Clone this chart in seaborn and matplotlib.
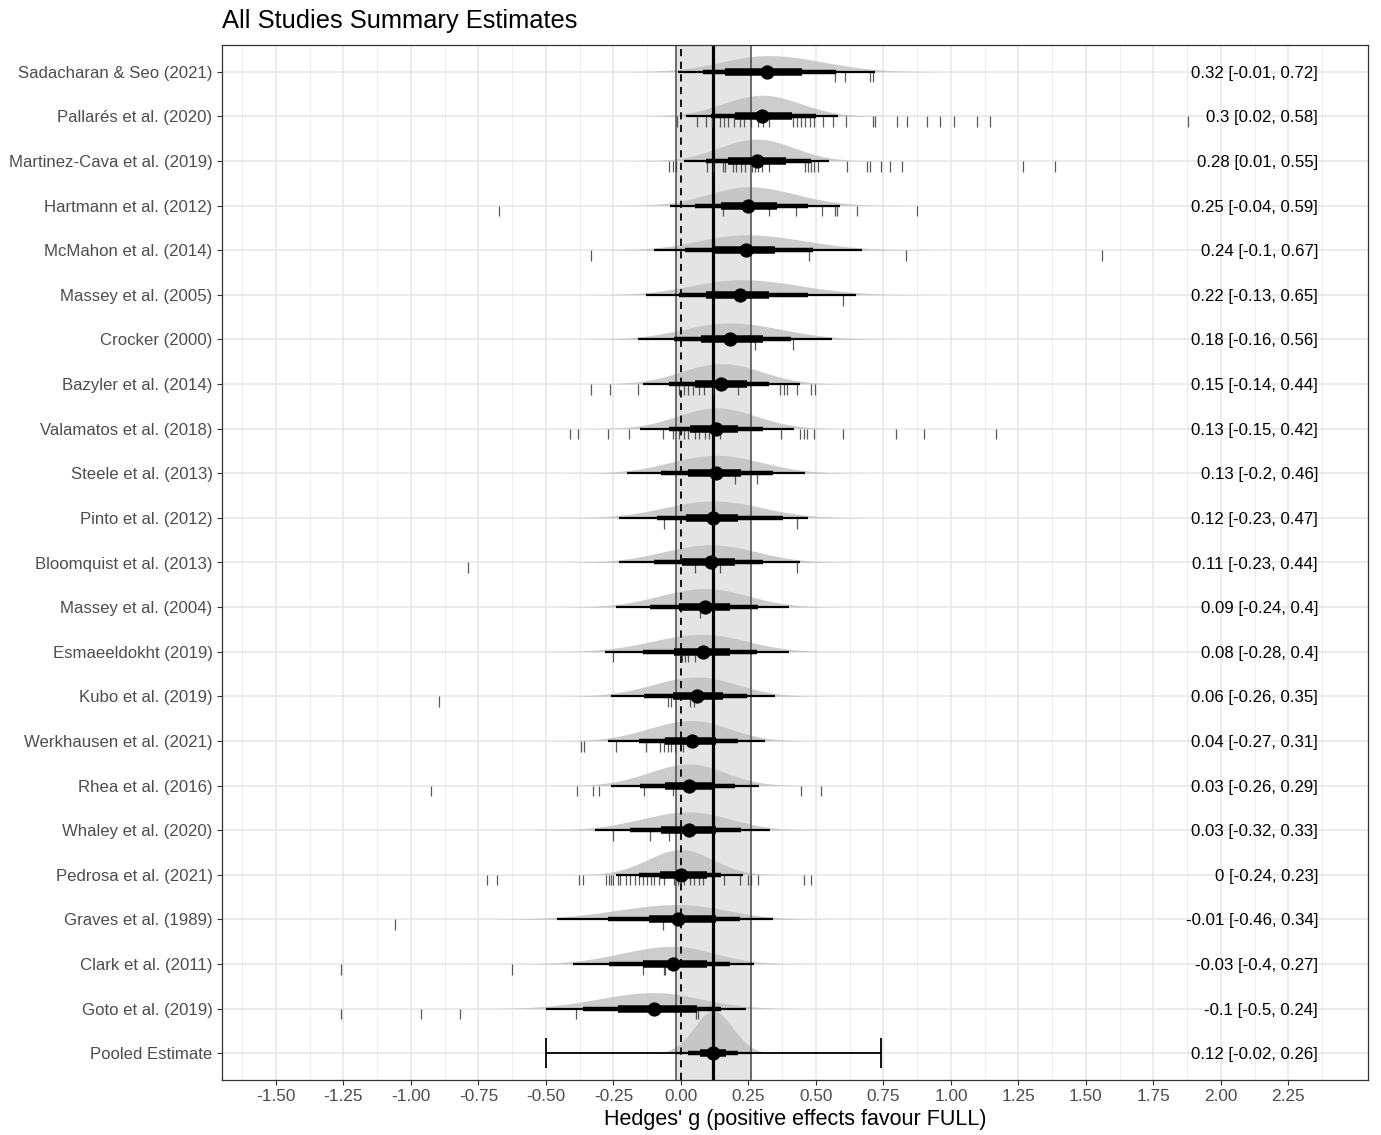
import numpy as np
import pandas as pd
import matplotlib
matplotlib.use("Agg")
import matplotlib.pyplot as plt
import seaborn as sns

# ------------------------------------------
# Data
# ------------------------------------------
studies = [
    "Sadacharan & Seo (2021)", "Pallarés et al. (2020)", "Martinez-Cava et al. (2019)",
    "Hartmann et al. (2012)", "McMahon et al. (2014)", "Massey et al. (2005)",
    "Crocker (2000)", "Bazyler et al. (2014)", "Valamatos et al. (2018)",
    "Steele et al. (2013)", "Pinto et al. (2012)", "Bloomquist et al. (2013)",
    "Massey et al. (2004)", "Esmaeeldokht (2019)", "Kubo et al. (2019)",
    "Werkhausen et al. (2021)", "Rhea et al. (2016)", "Whaley et al. (2020)",
    "Pedrosa et al. (2021)", "Graves et al. (1989)", "Clark et al. (2011)",
    "Goto et al. (2019)", "Pooled Estimate",
]
median = [0.32, 0.30, 0.28, 0.25, 0.24, 0.22, 0.18, 0.15, 0.13, 0.13, 0.12, 0.11,
          0.09, 0.08, 0.06, 0.04, 0.03, 0.03, 0.00, -0.01, -0.03, -0.10, 0.12]
lower95 = [-0.01, 0.02, 0.01, -0.04, -0.10, -0.13, -0.16, -0.14, -0.15, -0.20, -0.23, -0.23,
           -0.24, -0.28, -0.26, -0.27, -0.26, -0.32, -0.24, -0.46, -0.40, -0.50, -0.02]
upper95 = [0.72, 0.58, 0.55, 0.59, 0.67, 0.65, 0.56, 0.44, 0.42, 0.46, 0.47, 0.44,
           0.40, 0.40, 0.35, 0.31, 0.29, 0.33, 0.23, 0.34, 0.27, 0.24, 0.26]
lower80 = [0.083, 0.11, 0.093, 0.052, 0.015, -0.006, -0.027, -0.044, -0.044, -0.073, -0.089, -0.10,
           -0.114, -0.141, -0.135, -0.156, -0.151, -0.187, -0.156, -0.272, -0.266, -0.363, 0.028]
upper80 = [0.575, 0.50, 0.48, 0.47, 0.49, 0.47, 0.409, 0.326, 0.305, 0.342, 0.378, 0.305,
           0.284, 0.28, 0.243, 0.21, 0.201, 0.222, 0.149, 0.218, 0.181, 0.149, 0.212]
lower50 = [0.164, 0.20, 0.176, 0.15, 0.128, 0.093, 0.073, 0.052, 0.035, 0.025, 0.019, 0.004,
           -0.006, -0.027, -0.031, -0.058, -0.058, -0.075, -0.079, -0.12, -0.142, -0.233, 0.072]
upper50 = [0.45, 0.41, 0.39, 0.357, 0.35, 0.326, 0.305, 0.243, 0.21, 0.222, 0.212, 0.20,
           0.18, 0.18, 0.156, 0.131, 0.118, 0.129, 0.098, 0.129, 0.097, 0.058, 0.168]

# prediction interval of the pooled estimate
pred_lower = -0.50
pred_upper = 0.74

# individual effect sizes (rug ticks) per study
rug_sadacharan = [0.571, 0.606, 0.699, 0.710]
rug_pallares = [-0.015, 0.06, 0.093, 0.114, 0.143, 0.16, 0.176, 0.197, 0.218, 0.234, 0.259,
                0.284, 0.305, 0.326, 0.415, 0.429, 0.446, 0.459, 0.477, 0.492, 0.527, 0.564,
                0.612, 0.71, 0.72, 0.799, 0.836, 0.913, 0.958, 1.012, 1.097, 1.145, 1.88]
rug_martinez = [-0.044, -0.031, -0.017, 0.098, 0.118, 0.154, 0.164, 0.191, 0.203, 0.222, 0.239,
                0.263, 0.274, 0.284, 0.299, 0.326, 0.461, 0.471, 0.481, 0.492, 0.506, 0.616,
                0.689, 0.699, 0.741, 0.776, 0.819, 1.266, 1.384]
rug_hartmann = [-0.674, 0.154, 0.326, 0.425, 0.523, 0.571, 0.579, 0.651, 0.876]
rug_mcmahon = [-0.332, 0.475, 0.834, 1.56]
rug_massey05 = [0.60]
rug_crocker = [0.274, 0.415]
rug_bazyler = [-0.332, -0.261, -0.158, -0.006, 0.01, 0.027, 0.046, 0.068, 0.085, 0.118, 0.21,
               0.367, 0.38, 0.392, 0.429, 0.481, 0.496]
rug_valamatos = [-0.411, -0.38, -0.272, -0.193, -0.068, -0.031, -0.006, 0.01, 0.027, 0.052,
                 0.068, 0.089, 0.104, 0.143, 0.371, 0.44, 0.454, 0.467, 0.492, 0.6, 0.797,
                 0.902, 1.166]
rug_steele = [0.201, 0.28]
rug_pinto = [-0.062, 0.429]
rug_bloomquist = [-0.79, 0.052, 0.143, 0.429]
rug_massey04 = [0.07]
rug_esmaeeldokht = [-0.251, 0.004, 0.015, 0.027, 0.052]
rug_kubo = [-0.898, -0.048, -0.035, 0.035, 0.048]
rug_werkhausen = [-0.369, -0.359, -0.239, -0.131, -0.079, -0.064, -0.048, -0.037, -0.023, 0.006]
rug_rhea = [-0.925, -0.386, -0.324, -0.305, -0.135, -0.031, 0.446, 0.517]
rug_whaley = [-0.251, -0.116, -0.044]
rug_pedrosa = [-0.718, -0.680, -0.376, -0.363, -0.276, -0.268, -0.259, -0.251, -0.234, -0.224,
               -0.203, -0.189, -0.172, -0.156, -0.141, -0.124, -0.110, -0.098, -0.083, -0.064,
               -0.027, -0.012, 0.010, 0.035, 0.050, 0.068, 0.083, 0.160, 0.218, 0.247, 0.259,
               0.284, 0.454, 0.481]
rug_graves = [-1.058, -0.068]
rug_clark = [-1.26, -0.624, -0.142, -0.062, -0.058]
rug_goto = [-1.26, -0.962, -0.82, -0.389, 0.056, 0.062]

rug_values = [rug_sadacharan, rug_pallares, rug_martinez, rug_hartmann, rug_mcmahon,
              rug_massey05, rug_crocker, rug_bazyler, rug_valamatos, rug_steele, rug_pinto,
              rug_bloomquist, rug_massey04, rug_esmaeeldokht, rug_kubo, rug_werkhausen,
              rug_rhea, rug_whaley, rug_pedrosa, rug_graves, rug_clark, rug_goto, []]

x_ticks = np.arange(-1.5, 2.26, 0.25)

# ------------------------------------------
# Build table
# ------------------------------------------
n = len(studies)
df = pd.DataFrame({
    "study": studies, "median": median,
    "lo95": lower95, "hi95": upper95,
    "lo80": lower80, "hi80": upper80,
    "lo50": lower50, "hi50": upper50,
})
df["ypos"] = np.arange(n)[::-1]


def fmt(v):
    s = f"{v:g}"
    return "0" if s == "-0" else s


df["label"] = [f"{fmt(m)} [{fmt(l)}, {fmt(h)}]" for m, l, h in
               zip(df["median"], df["lo95"], df["hi95"])]

# ------------------------------------------
# Plot
# ------------------------------------------
sns.set_style("ticks")
plt.rcParams["font.family"] = ["Liberation Sans", "DejaVu Sans"]

fig = plt.figure(figsize=(13.81, 11.35), dpi=100)
ax = fig.add_axes([222 / 1381, 1 - 1080 / 1135, (1368 - 222) / 1381, (1080 - 45) / 1135])

# grid
ax.set_xticks(x_ticks)
ax.set_xticks(np.arange(-1.625, 2.55, 0.25), minor=True)
ax.grid(True, which="major", color="#e6e6e6", lw=1.1, zorder=0)
ax.grid(True, which="minor", axis="x", color="#ededed", lw=0.7, zorder=0)
ax.set_axisbelow(True)

# pooled CI band + reference lines
pooled = df.iloc[-1]
ax.axvspan(pooled["lo95"], pooled["hi95"], color="#dcdcdc", alpha=0.75, lw=0, zorder=0.5)
ax.axvline(pooled["lo95"], color="#555555", lw=1.2, zorder=2)
ax.axvline(pooled["hi95"], color="#555555", lw=1.2, zorder=2)
ax.axvline(0, color="black", lw=1.3, ls=(0, (4, 3)), zorder=2)
ax.axvline(pooled["median"], color="black", lw=2.3, zorder=2)

# posterior densities (split normal built from the median and 95% limits)
dens_scale = 0.17
for _, r in df.iterrows():
    sl = (r["median"] - r["lo95"]) / 1.96
    sr = (r["hi95"] - r["median"]) / 1.96
    xs = np.linspace(r["median"] - 4 * sl, r["median"] + 4 * sr, 400)
    amp = 2 / (np.sqrt(2 * np.pi) * (sl + sr))
    sd = np.where(xs < r["median"], sl, sr)
    dens = amp * np.exp(-0.5 * ((xs - r["median"]) / sd) ** 2)
    ax.fill_between(xs, r["ypos"], r["ypos"] + dens * dens_scale,
                    color="#bcbcbc", alpha=0.75, lw=0, zorder=1)

# rug ticks of individual effects
for y, vals in zip(df["ypos"], rug_values):
    if vals:
        ax.vlines(vals, y - 0.24, y, color="#3c3c3c", lw=0.9, alpha=0.85, zorder=2.5)

# prediction interval for pooled estimate
ax.errorbar(pooled["median"], pooled["ypos"],
            xerr=[[pooled["median"] - pred_lower], [pred_upper - pooled["median"]]],
            fmt="none", ecolor="black", elinewidth=1.3, capsize=10.5, capthick=1.3, zorder=3)

# interval bars
ax.hlines(df["ypos"], df["lo95"], df["hi95"], color="black", lw=1.6, zorder=3)
ax.hlines(df["ypos"], df["lo80"], df["hi80"], color="black", lw=3.2, zorder=3)
ax.hlines(df["ypos"], df["lo50"], df["hi50"], color="black", lw=5.4, zorder=3)
sns.scatterplot(data=df, x="median", y="ypos", color="black", s=105,
                edgecolor="black", linewidth=0, zorder=4, legend=False, ax=ax)

# summary text
for _, r in df.iterrows():
    ax.text(2.36, r["ypos"], r["label"], ha="right", va="center_baseline",
            fontsize=12.1, color="black", zorder=5)

# axes
ax.set_xlim(-1.70, 2.545)
ax.set_ylim(-0.6, n - 0.4)
ax.set_yticks(df["ypos"])
ax.set_yticklabels(df["study"])
ax.set_xticklabels([f"{t:.2f}" for t in x_ticks])
ax.tick_params(axis="both", which="major", labelsize=12.4, labelcolor="#4d4d4d",
               color="#333333", length=3.8, width=0.8, pad=3)
ax.tick_params(axis="y", which="major", labelsize=12.1)
ax.tick_params(axis="x", which="minor", length=0)
for sp in ax.spines.values():
    sp.set_visible(True)
    sp.set_color("#333333")
    sp.set_linewidth(0.9)

ax.set_xlabel("Hedges' g (positive effects favour FULL)", fontsize=15.5, color="black", labelpad=3)
ax.set_ylabel("")
fig.text(222 / 1381, 1 - 21 / 1135, "All Studies Summary Estimates", fontsize=18.4,
         ha="left", va="center", color="black")

fig.savefig("out.png", dpi=100)
